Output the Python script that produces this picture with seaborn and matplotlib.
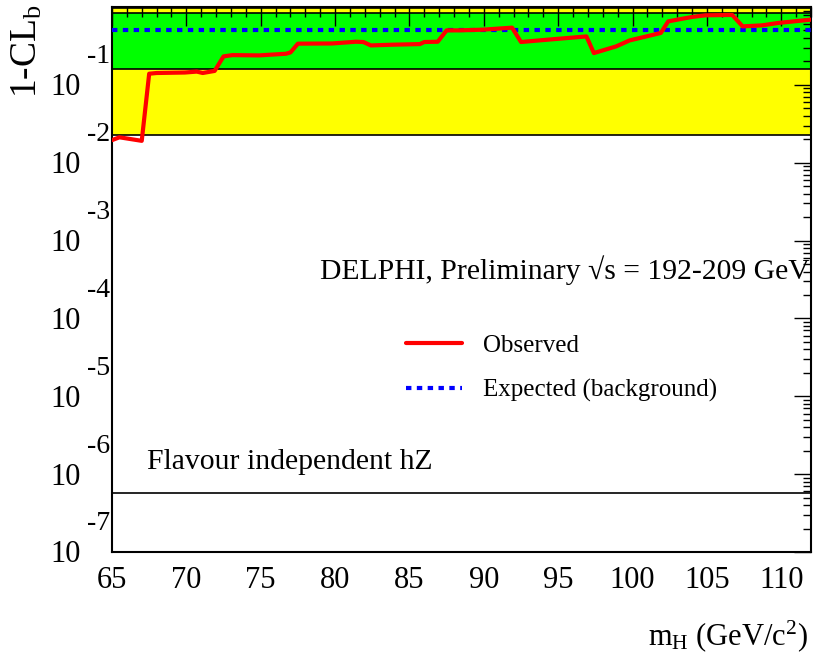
import numpy as np
import pandas as pd
import matplotlib
matplotlib.use("Agg")
import matplotlib.pyplot as plt
import matplotlib.transforms as mtransforms
from matplotlib.ticker import FixedLocator, NullFormatter
import seaborn as sns

# Observed 1-CL_b versus Higgs mass (flavour independent hZ search)
mass_obs = [65.0, 65.5, 67.0, 67.5, 68.0, 69.9, 70.7, 71.1, 71.9, 72.5, 73.1, 74.9,
            76.7, 77.0, 77.5, 79.8, 81.4, 81.9, 82.4, 83.9, 85.7, 86.0, 86.9, 87.5,
            88.3, 89.9, 91.9, 92.5, 93.7, 96.9, 97.4, 98.9, 99.8, 101.9, 102.4, 104.0,
            104.9, 106.7, 107.4, 108.7, 109.8, 112.0]
cl_obs = [0.0195, 0.0212, 0.0191, 0.139, 0.142, 0.144, 0.148, 0.142, 0.151, 0.232,
          0.241, 0.239, 0.251, 0.261, 0.338, 0.340, 0.358, 0.355, 0.321, 0.328,
          0.334, 0.355, 0.358, 0.501, 0.501, 0.511, 0.543, 0.355, 0.372, 0.419,
          0.256, 0.312, 0.372, 0.464, 0.654, 0.745, 0.782, 0.791, 0.564, 0.581,
          0.624, 0.688]

# Expected background-only value
mass_exp = [65.0, 112.0]
cl_exp = [0.5, 0.5]

# 1 and 2 sigma bands and the 5 sigma reference
band_1sigma = [0.1587, 0.8413]
band_2sigma = [0.02275, 0.97725]
five_sigma = 5.73e-7

y_exponents = [-1, -2, -3, -4, -5, -6, -7]
x_ticks = [65, 70, 75, 80, 85, 90, 95, 100, 105, 110]

sns.set_theme(style="white")
plt.rcParams["font.family"] = ["Liberation Serif", "DejaVu Serif"]
plt.rcParams["mathtext.fontset"] = "custom"
plt.rcParams["mathtext.rm"] = "Liberation Serif"
plt.rcParams["mathtext.it"] = "Liberation Serif:italic"
for key in ["text.color", "axes.labelcolor", "xtick.color", "ytick.color",
            "xtick.labelcolor", "ytick.labelcolor"]:
    plt.rcParams[key] = "black"

fig = plt.figure(figsize=(8.14, 6.57), dpi=100)
ax = fig.add_axes([112 / 814, 1 - 552 / 657, 699 / 814, 545 / 657])

xmin, xmax = 65, 112
ax.set_xlim(xmin, xmax)
ax.set_yscale("log")
ax.set_ylim(1e-7, 1)

# bands
ax.axhspan(band_2sigma[0], band_2sigma[1], color="#ffff00", zorder=0, lw=0)
ax.axhspan(band_1sigma[0], band_1sigma[1], color="#00ff00", zorder=0.5, lw=0)
for v in band_1sigma + band_2sigma:
    ax.axhline(v, color="black", lw=1.2, zorder=1)
ax.axhline(five_sigma, color="black", lw=1.2, zorder=1)

df_obs = pd.DataFrame({"m": mass_obs, "cl": cl_obs})
df_exp = pd.DataFrame({"m": mass_exp, "cl": cl_exp})
sns.lineplot(data=df_exp, x="m", y="cl", ax=ax, color="#0000ff", lw=3,
             linestyle=(0, (1.3, 1.3)), label="Expected (background)", zorder=3)
sns.lineplot(data=df_obs, x="m", y="cl", ax=ax, color="#ff0000", lw=3,
             label="Observed", zorder=4)

# ticks
ax.xaxis.set_major_locator(FixedLocator(x_ticks))
ax.xaxis.set_minor_locator(FixedLocator(np.arange(66, 113, 1)))
ax.set_xticklabels([str(t) for t in x_ticks])
ax.yaxis.set_major_locator(FixedLocator([10.0 ** e for e in range(-7, 1)]))
minors = [m * 10.0 ** e for e in range(-7, 0) for m in range(2, 10)]
ax.yaxis.set_minor_locator(FixedLocator(minors))
ax.yaxis.set_major_formatter(NullFormatter())
ax.yaxis.set_minor_formatter(NullFormatter())
ax.tick_params(axis="both", which="both", direction="in", top=True, right=True,
               color="black", width=1.0)
ax.tick_params(axis="x", which="major", length=14, labelsize=22, pad=10)
ax.tick_params(axis="x", which="minor", length=7)
ax.tick_params(axis="y", which="major", length=12)
ax.tick_params(axis="y", which="minor", length=6)
for s in ax.spines.values():
    s.set_color("black")
    s.set_linewidth(1.5)
ax.set_xlabel("")
ax.set_ylabel("")

# y tick labels drawn as "10" with a raised exponent
trans = mtransforms.blended_transform_factory(ax.transAxes, ax.transData)
base_trans = mtransforms.offset_copy(trans, fig=fig, x=0, y=-3, units="dots")
exp_trans = mtransforms.offset_copy(trans, fig=fig, x=0, y=28, units="dots")
for e in y_exponents:
    v = 10.0 ** e
    ax.text(-0.045, v, "10", transform=base_trans, ha="right", va="center",
            fontsize=22, clip_on=False)
    ax.text(-0.003, v, "%d" % e, transform=exp_trans, ha="right", va="center",
            fontsize=20, clip_on=False)

fig.text(27 / 814, 1 - 4 / 657, r"1-CL$_{\mathrm{b}}$", rotation=90, ha="center",
         va="top", fontsize=27)
fig.text(808 / 814, 1 - 636 / 657, r"m$_{\mathrm{H}}$ (GeV/c$^{2}$)", ha="right",
         va="center", fontsize=22)

ax.text(0.998, 1 - (270 - 7) / 545, r"DELPHI, Preliminary √s = 192-209 GeV",
        transform=ax.transAxes, ha="right", va="center", fontsize=21.3)
ax.text((147 - 112) / 699, 1 - (462 - 7) / 545, "Flavour independent hZ",
        transform=ax.transAxes, ha="left", va="center", fontsize=21.4)

handles, labels = ax.get_legend_handles_labels()
order = [labels.index("Observed"), labels.index("Expected (background)")]
leg = ax.legend([handles[i] for i in order], [labels[i] for i in order],
                loc="upper left", bbox_to_anchor=(406 / 814, 1 - 334 / 657),
                bbox_transform=fig.transFigure, frameon=False, fontsize=18,
                handlelength=2.24, handletextpad=0.85, labelspacing=0.9,
                borderaxespad=0, borderpad=0)

fig.savefig("out.png", dpi=100, facecolor="white")
